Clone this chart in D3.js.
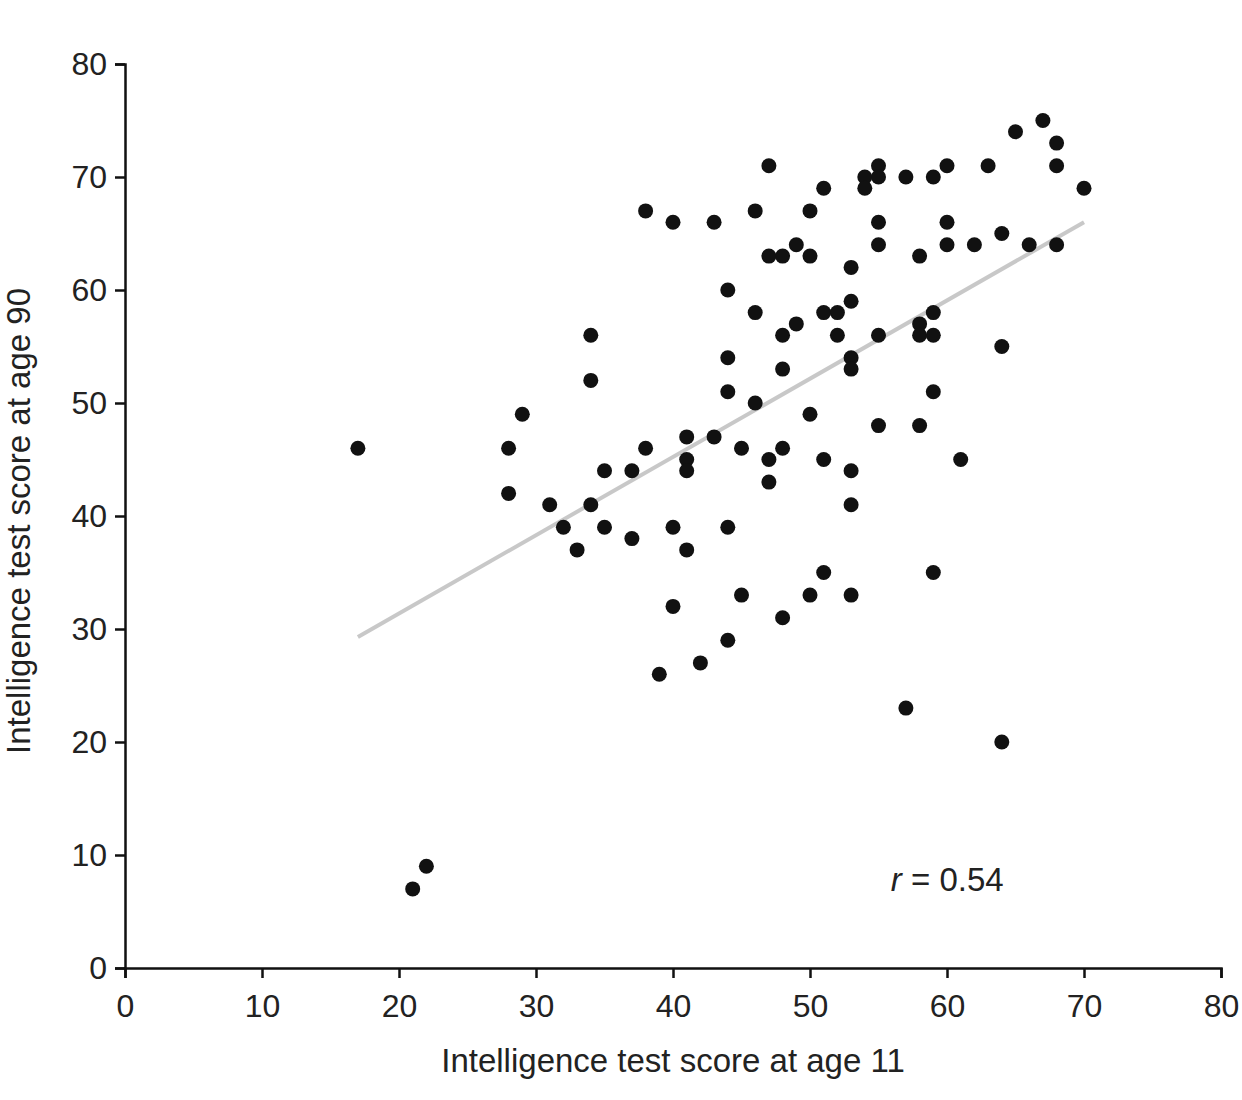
<!DOCTYPE html>
<html>
<head>
<meta charset="utf-8">
<script src="https://cdn.jsdelivr.net/npm/d3@7"></script>
<style>
  body { margin: 0; background: #fff; }
  text { font-family: "Liberation Sans", Arial, sans-serif; fill: #222; }
</style>
</head>
<body>
<div id="chart"></div>
<script>
// Data
const ageEleven = [17, 21, 22, 28, 28, 29, 31, 32, 33, 34, 34, 34, 35, 35, 37, 37, 38, 38, 40, 40, 40, 39,
  41, 41, 41, 41, 42, 43, 43, 44, 44, 44, 44, 44, 45, 45, 46, 46, 46, 47, 47, 47, 47, 48, 48, 48, 48, 48,
  49, 49, 50, 50, 50, 50, 51, 51, 51, 51, 52, 52, 53, 53, 53, 53, 53, 53, 53, 54, 54, 55, 55, 55, 55, 55, 55,
  57, 57, 58, 58, 58, 58, 59, 59, 59, 59, 59, 60, 60, 60, 61, 62, 63, 64, 64, 64, 65, 66, 67, 68, 68, 68, 70];
const ageNinety = [46, 7, 9, 46, 42, 49, 41, 39, 37, 56, 52, 41, 44, 39, 44, 38, 67, 46, 66, 39, 32, 26,
  47, 45, 44, 37, 27, 66, 47, 60, 54, 51, 39, 29, 46, 33, 67, 58, 50, 71, 63, 45, 43, 63, 56, 53, 46, 31,
  64, 57, 67, 63, 49, 33, 69, 58, 45, 35, 58, 56, 62, 59, 54, 53, 44, 41, 33, 70, 69, 71, 70, 66, 64, 56, 48,
  70, 23, 63, 57, 56, 48, 70, 58, 56, 51, 35, 71, 66, 64, 45, 64, 71, 65, 55, 20, 74, 64, 75, 73, 71, 64, 69];
const fitLine = [[17, 29.3], [70, 66]];
const xTicks = [0, 10, 20, 30, 40, 50, 60, 70, 80];
const yTicks = [0, 10, 20, 30, 40, 50, 60, 70, 80];
const rLabel = "0.54";

const WIDTH = 1242, HEIGHT = 1100;
const margin = { top: 64, right: 21, bottom: 132, left: 125 };
const width = WIDTH - margin.left - margin.right;
const height = HEIGHT - margin.top - margin.bottom;

const svg = d3.select("#chart").append("svg")
  .attr("width", WIDTH).attr("height", HEIGHT)
  .append("g")
  .attr("transform", `translate(${margin.left}, ${margin.top})`);

const x = d3.scaleLinear().domain([0, 80]).range([0, width]);
const y = d3.scaleLinear().domain([0, 80]).range([height, 0]);

// axes
const xAxis = svg.append("g")
  .attr("transform", `translate(0, ${height})`)
  .call(d3.axisBottom(x).tickValues(xTicks).tickSize(10).tickPadding(16));
const yAxis = svg.append("g")
  .call(d3.axisLeft(y).tickValues(yTicks).tickSize(10).tickPadding(8));
[xAxis, yAxis].forEach(a => {
  a.select(".domain").attr("stroke", "#111").attr("stroke-width", 2.5);
  a.selectAll(".tick line").attr("stroke", "#111").attr("stroke-width", 2.5);
  a.selectAll("text").style("font-size", "32px").attr("fill", "#222");
});

svg.append("text")
  .attr("x", x(40)).attr("y", height + 104)
  .attr("text-anchor", "middle").style("font-size", "33px")
  .text("Intelligence test score at age 11");
svg.append("text")
  .attr("transform", `translate(-95, ${y(40) + 5}) rotate(-90)`)
  .attr("text-anchor", "middle").style("font-size", "33px")
  .text("Intelligence test score at age 90");

// regression line
svg.append("line")
  .attr("x1", x(fitLine[0][0])).attr("y1", y(fitLine[0][1]))
  .attr("x2", x(fitLine[1][0])).attr("y2", y(fitLine[1][1]))
  .attr("stroke", "#c8c8c8").attr("stroke-width", 4);

// points
svg.selectAll("circle")
  .data(ageEleven.map((v, i) => [v, ageNinety[i]]))
  .join("circle")
  .attr("cx", d => x(d[0])).attr("cy", d => y(d[1]))
  .attr("r", 7.5).attr("fill", "#111");

const t = svg.append("text")
  .attr("x", x(55.9)).attr("y", y(6.8)).style("font-size", "33px");
t.append("tspan").style("font-style", "italic").text("r");
t.append("tspan").text(" = " + rLabel);
</script>
</body>
</html>
